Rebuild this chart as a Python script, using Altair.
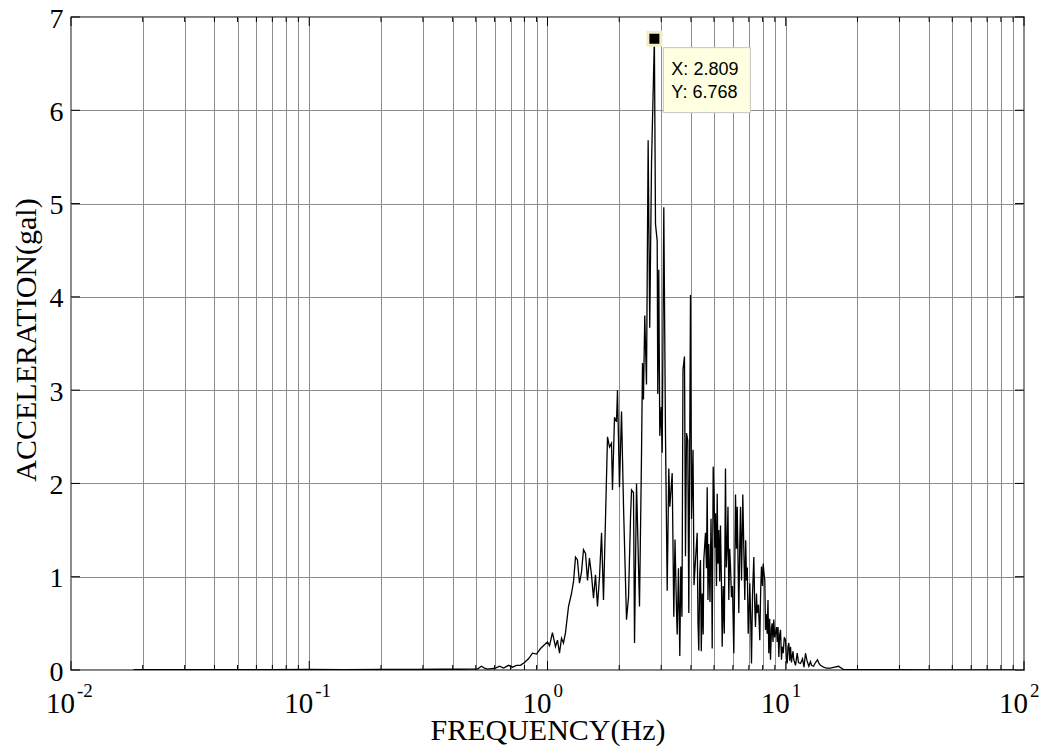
import altair as alt
import pandas as pd

# ---- data ----
freq_hz = [
    0.0183, 0.025, 0.035, 0.05, 0.07, 0.1, 0.14, 0.2, 0.28, 0.35, 0.42, 0.48,
    0.508, 0.528, 0.544, 0.560, 0.605, 0.629, 0.654, 0.686, 0.713, 0.741, 0.770, 0.801, 0.832, 0.865, 0.899, 0.935, 0.971,
    1.000, 1.020, 1.049, 1.080, 1.101, 1.123, 1.145, 1.167, 1.190, 1.225, 1.261, 1.286, 1.311, 1.336, 1.362, 1.389, 1.416,
    1.444, 1.472, 1.500, 1.530, 1.560, 1.590, 1.621, 1.653, 1.686, 1.718, 1.786, 1.821, 1.856, 1.874, 1.911, 1.948, 1.967,
    2.005, 2.045, 2.085, 2.146, 2.188, 2.231, 2.253, 2.296, 2.319, 2.364, 2.433, 2.480, 2.505, 2.528, 2.560, 2.603, 2.645,
    2.686, 2.733, 2.809, 2.840, 2.887, 2.903, 2.931, 2.960,
    3.001, 3.030, 3.077, 3.128, 3.180, 3.229, 3.261, 3.337, 3.389, 3.429, 3.479, 3.502, 3.546, 3.592, 3.626, 3.668, 3.704,
    3.758, 3.795, 3.832, 3.880, 3.918, 3.983,
    4.022, 4.081, 4.120, 4.180, 4.249, 4.282, 4.315, 4.357, 4.386, 4.420, 4.459, 4.502, 4.529, 4.604, 4.648, 4.680, 4.716,
    4.753, 4.809, 4.856, 4.888, 4.912, 4.960, 4.998,
    5.037, 5.071, 5.120, 5.155, 5.195, 5.236, 5.282, 5.322, 5.374, 5.411, 5.463, 5.522, 5.585, 5.629, 5.677, 5.722, 5.767,
    5.817, 5.862, 5.919, 5.976,
    6.053, 6.105, 6.153, 6.213, 6.255, 6.304, 6.352, 6.408, 6.458, 6.521, 6.603, 6.667, 6.732, 6.791, 6.844, 6.896, 6.957,
    7.010, 7.065, 7.134, 7.182, 7.252, 7.344, 7.408, 7.464, 7.537, 7.589, 7.684, 7.782, 7.850, 7.910, 7.987,
    8.040, 8.103, 8.167, 8.222, 8.286, 8.357, 8.423, 8.489, 8.562, 8.629, 8.713, 8.772, 8.840, 8.909, 8.987,
    9.057, 9.145, 9.208, 9.279, 9.351, 9.433, 9.506, 9.598, 9.663, 9.757, 9.861, 9.976,
    10.05, 10.14, 10.22, 10.30, 10.39, 10.47, 10.57, 10.64, 10.72, 10.81, 10.99, 11.17, 11.31, 11.53, 11.76, 11.93, 12.10,
    12.28, 12.50, 12.70, 12.83, 13.08, 13.33, 13.59, 13.79, 13.99, 14.40, 14.83, 15.41, 16.02, 16.65, 17.48,
    20.0, 25.0, 30.0, 40.0, 50.0, 70.0, 92.0,
]

accel_gal = [
    0.004, 0.003, 0.004, 0.005, 0.004, 0.006, 0.005, 0.007, 0.006, 0.008, 0.008, 0.01,
    0.01, 0.04, 0.02, 0.01, 0.02, 0.04, 0.02, 0.05, 0.03, 0.05, 0.05, 0.08, 0.12, 0.18, 0.17, 0.23, 0.27,
    0.30, 0.26, 0.40, 0.25, 0.32, 0.18, 0.34, 0.29, 0.40, 0.68, 0.82, 0.95, 1.21, 1.18, 0.93, 1.05, 1.29,
    1.25, 0.96, 1.20, 1.02, 0.77, 1.02, 0.68, 1.00, 1.47, 0.75, 2.50, 2.39, 2.43, 1.93, 2.71, 2.66, 3.00,
    1.96, 2.77, 1.75, 0.54, 0.78, 1.64, 1.93, 1.90, 0.29, 2.00, 0.68, 2.28, 3.29, 2.90, 3.80, 3.06, 5.68,
    3.67, 5.44, 6.768, 4.78, 4.60, 2.96, 4.29, 2.51,
    2.82, 2.33, 4.96, 2.51, 0.85, 2.16, 1.75, 2.11, 0.57, 1.40, 0.64, 0.38, 1.09, 0.15, 1.11, 0.57, 3.22,
    3.36, 1.22, 2.54, 2.46, 0.61, 4.02,
    1.62, 2.36, 0.91, 1.18, 1.47, 0.51, 0.21, 1.04, 1.18, 0.20, 0.82, 0.38, 1.18, 1.47, 1.09, 1.96, 0.75,
    1.35, 0.73, 1.62, 1.09, 0.23, 2.18, 1.89,
    1.31, 1.68, 0.90, 1.89, 1.14, 1.50, 0.95, 1.55, 0.90, 0.25, 0.90, 0.39, 2.16, 1.10, 1.32, 1.75, 0.75,
    1.30, 1.11, 0.78, 0.90,
    0.18, 1.00, 1.88, 1.30, 1.75, 1.20, 0.61, 1.30, 1.75, 0.96, 1.88, 1.30, 0.75, 1.39, 0.96, 1.10, 0.39,
    0.61, 0.93, 0.50, 0.07, 0.80, 1.21, 0.70, 0.46, 0.82, 0.61, 0.70, 0.32, 0.86, 1.11, 0.90,
    1.14, 1.04, 0.96, 0.43, 0.60, 0.39, 0.75, 0.18, 0.55, 0.11, 0.45, 0.50, 0.30, 0.54, 0.35,
    0.39, 0.46, 0.30, 0.46, 0.14, 0.38, 0.43, 0.11, 0.25, 0.18, 0.35, 0.32,
    0.12, 0.07, 0.25, 0.29, 0.10, 0.25, 0.08, 0.14, 0.20, 0.11, 0.05, 0.18, 0.08, 0.07, 0.12, 0.03, 0.18,
    0.10, 0.04, 0.09, 0.05, 0.04, 0.08, 0.11, 0.07, 0.05, 0.03, 0.02, 0.02, 0.03, 0.04, 0.005,
    0.004, 0.003, 0.003, 0.002, 0.002, 0.002, 0.002,
]

decade_exp = [-2, -1, 0, 1, 2]
grid_mult = [1, 2, 3, 4, 5, 6, 7, 8, 9]
y_ticks = [0, 1, 2, 3, 4, 5, 6, 7]
x_title = "FREQUENCY(Hz)"
y_title = "ACCELERATION(gal)"
tip_x = 2.809
tip_y = 6.768

# ---- derived tables ----
W, H = 953, 653
SERIF = "Liberation Serif"
SANS = "Liberation Sans"
GRID = "#8c8c8c"

decades = [10.0 ** e for e in decade_exp]
grid_vals = [m * 10.0 ** e for e in decade_exp[:-1] for m in grid_mult] + [decades[-1]]
minor_vals = [v for v in grid_vals if v not in decades]

spec_df = pd.DataFrame({"f": freq_hz, "a": accel_gal})
major_df = pd.DataFrame({"f": decades})
minor_df = pd.DataFrame({"f": minor_vals})
ytick_df = pd.DataFrame({"a": y_ticks})
lab_df = pd.DataFrame({"f": decades, "base": ["10"] * len(decades), "exp": [str(e) for e in decade_exp]})
tip_df = pd.DataFrame({"f": [tip_x], "a": [tip_y],
                       "l1": [f"X: {tip_x}"], "l2": [f"Y: {tip_y}"]})

xs = alt.Scale(type="log", domain=[decades[0], decades[-1]], nice=False)
ys = alt.Scale(domain=[y_ticks[0], y_ticks[-1]], nice=False, zero=False)

x_axis = alt.Axis(values=grid_vals, grid=True, labels=False, ticks=False, domain=False,
                  title=x_title, titleFont=SERIF, titleFontSize=30, titleFontWeight="normal",
                  titleColor="black", titleX=W / 2, titleY=69, titleAlign="center",
                  titleBaseline="alphabetic", gridColor=GRID, gridOpacity=1, gridWidth=1)
y_axis = alt.Axis(values=y_ticks, grid=True, ticks=False, domain=False,
                  labelFont=SERIF, labelFontSize=28, labelColor="black", labelPadding=8,
                  labelOffset=2,
                  title=y_title, titleFont=SERIF, titleFontSize=30, titleFontWeight="normal",
                  titleColor="black", titleX=-45, titleY=H / 2 - 4, titleAngle=-90,
                  titleAlign="center", titleBaseline="middle",
                  gridColor=GRID, gridOpacity=1, gridWidth=1)

X = alt.X("f:Q", scale=xs, axis=x_axis, title=x_title)
Y = alt.Y("a:Q", scale=ys, axis=y_axis, title=y_title)

line = alt.Chart(spec_df).mark_line(color="black", strokeWidth=1.3, clip=True).encode(x=X, y=Y)


def xtick_layer(df, y0, y1):
    return alt.Chart(df).mark_rule(color="black", strokeWidth=1).encode(
        x=X, y=alt.value(y0), y2=alt.value(y1))


def ytick_layer(x0, x1):
    return alt.Chart(ytick_df).mark_rule(color="black", strokeWidth=1).encode(
        y=Y, x=alt.value(x0), x2=alt.value(x1))


ticks = [
    xtick_layer(minor_df, H, H - 5), xtick_layer(major_df, H, H - 9),
    xtick_layer(minor_df, 0, 5), xtick_layer(major_df, 0, 9),
    ytick_layer(0, 9), ytick_layer(W, W - 9),
]

base_lab = alt.Chart(lab_df).mark_text(font=SERIF, fontSize=29, align="right", baseline="alphabetic",
                                       dx=4, color="black").encode(
    x=X, y=alt.value(H + 43), text="base:N")
exp_lab = alt.Chart(lab_df).mark_text(font=SERIF, fontSize=19, align="left", baseline="alphabetic",
                                      dx=6, color="black").encode(
    x=X, y=alt.value(H + 27), text="exp:N")

box = alt.Chart(tip_df).mark_rect(fill="#ffffe1", stroke="#c4c4c4", strokeWidth=1,
                                  xOffset=9, x2Offset=96, yOffset=9, y2Offset=74).encode(
    x=X, x2="f:Q", y=Y, y2="a:Q")
tip1 = alt.Chart(tip_df).mark_text(font=SANS, fontSize=18, align="left", baseline="alphabetic",
                                   dx=17, dy=36, color="black").encode(x=X, y=Y, text="l1:N")
tip2 = alt.Chart(tip_df).mark_text(font=SANS, fontSize=18, align="left", baseline="alphabetic",
                                   dx=17, dy=59, color="black").encode(x=X, y=Y, text="l2:N")
marker = alt.Chart(tip_df).mark_square(size=169, filled=True, fill="black", stroke="#f2eec4",
                                       strokeWidth=3, opacity=1).encode(x=X, y=Y)

chart = alt.layer(line, *ticks, base_lab, exp_lab, box, tip1, tip2, marker).properties(
    width=W, height=H,
    padding={"left": 63, "top": 9, "right": 20, "bottom": 76},
    autosize=alt.AutoSizeParams(type="none"),
    background="white",
).configure_view(stroke="black", strokeWidth=1.3)

chart.save("out.html", embed_options={"renderer": "svg", "actions": False})
